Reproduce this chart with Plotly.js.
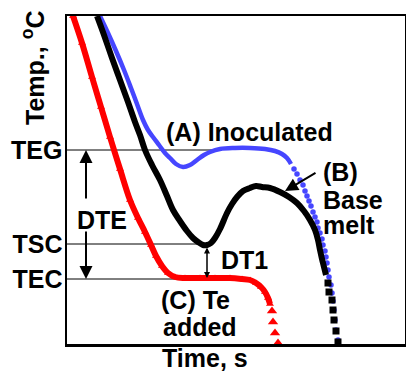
<!DOCTYPE html>
<html>
<head>
<meta charset="utf-8">
<script src="https://cdn.plot.ly/plotly-3.0.1.min.js"></script>
<style>html,body{margin:0;padding:0;background:#fff;}#chart{width:406px;height:372px;}</style>
</head>
<body>
<div id="chart"></div>
<script>
// Time (s, relative) and temperature (relative units)
const tickLabels = ['TEG', 'TSC', 'TEC'];
const tickTemps = [194, 100, 65];

// (A) Inoculated - blue circles
const timeA = [33,41,49,57,64,70,76,81,86,92,98,103,109,116,123,130,137,143,153,168,183,198,208,215,220,224];
const tempA = [328,311,293,274,256,240,224,214,207,199,191,186,180,177,179,184,189,192,195,196,196,195,193,190,186,180];
const timeATail = [227,230,233,236,238,240,242,244,246,248,250,251,253,255,256,258,259,260,261,262,264,265,266,267,268,269,271];
const tempATail = [175,170,164,159,153,148,143,138,132,127,122,116,111,105,99,93,87,81,74,67,59,51,43,34,24,14,4];

// (B) Base melt - black squares
const timeB = [30,37,45,53,61,68,73,78,85,93,100,106,113,120,126,131,136,140,144,148,153,160,165,170,176,183,189,195,203,213,222,230,237,243,248,251,253,255,257,259];
const tempB = [328,309,286,264,242,222,209,194,179,164,148,134,123,113,106,102,99,99,101,106,115,131,140,147,153,156,158,157,156,152,147,141,133,124,114,104,94,85,77,69];
const timeBTail = [261,262,265,266,267,269,271];
const tempBTail = [61,52,44,34,24,13,2];

// (C) Te added - red triangles
const timeC = [6,15,25,34,43,53,63,71,78,84,89,95,101,108,118,133,148,163,175,183,189,194,198,201,203];
const tempC = [328,301,267,237,207,175,144,126,112,99,88,78,71,67,66,66,66,66,65,64,61,57,52,46,40];
const timeCTail = [205,206,208,211];
const tempCTail = [33,22,11,1];

const BLUE = '#4646ff', BLACK = '#000000', RED = '#ff0000';

const traces = [
  {x: timeA, y: tempA, mode: 'lines', line: {color: BLUE, width: 4.5, shape: 'spline'}},
  {x: timeATail, y: tempATail, mode: 'markers', marker: {color: BLUE, size: 5.5, symbol: 'circle'}},
  {x: timeB, y: tempB, mode: 'lines', line: {color: BLACK, width: 6, shape: 'spline'}},
  {x: timeBTail, y: tempBTail, mode: 'markers', marker: {color: BLACK, size: 7, symbol: 'square'}},
  {x: timeC, y: tempC, mode: 'lines+markers', line: {color: RED, width: 6, shape: 'spline'}, marker: {color: RED, size: 7, symbol: 'triangle-up'}},
  {x: timeCTail, y: tempCTail, mode: 'markers', marker: {color: RED, size: 9, symbol: 'triangle-up'}}
];

const FONT = {family: 'Arial, "Liberation Sans", sans-serif', size: 25, color: '#000', weight: 'bold'};

function hline(yv, x1) {
  return {type: 'line', xref: 'x', yref: 'y', x0: 0, x1: x1, y0: yv, y1: yv, line: {color: '#000', width: 1}, layer: 'below'};
}
const shapes = [hline(tickTemps[0], 151), hline(tickTemps[1], 140), hline(tickTemps[2], 140)];

function txt(text, x, y, xanchor) {
  return {text: text, x: x, y: y, xref: 'x', yref: 'y', showarrow: false, font: FONT, xanchor: xanchor || 'center', yanchor: 'middle'};
}
function arrow(x, y, ax, ay) {
  return {text: '', x: x, y: y, ax: ax, ay: ay, xref: 'x', yref: 'y', axref: 'x', ayref: 'y', showarrow: true,
          arrowhead: 2, arrowsize: 1.3, arrowwidth: 2, arrowcolor: '#000', standoff: 0, startstandoff: 0};
}

const annotations = [
  txt('(A) Inoculated', 182, 212),
  txt('(B)', 254, 172, 'left'),
  txt('Base', 254, 144, 'left'),
  txt('melt', 254, 119, 'left'),
  txt('DTE', 35, 124),
  txt('DT1', 152, 84, 'left'),
  txt('(C) Te', 128, 44),
  txt('added', 133, 17),
  arrow(19, 194, 19, 144),
  arrow(19, 65, 19, 114),
  {text: '', x: 140, y: 66, ax: 140, ay: 98, xref: 'x', yref: 'y', axref: 'x', ayref: 'y', showarrow: true,
   arrowhead: 2, startarrowhead: 2, arrowsize: 0.8, startarrowsize: 0.8, arrowwidth: 1.5, arrowcolor: '#000', arrowside: 'end+start', standoff: 0, startstandoff: 0},
  arrow(218, 153, 250, 172),
  {text: 'Time, s', x: 138, xref: 'x', y: -0.043, yref: 'paper', showarrow: false, font: FONT, xanchor: 'center', yanchor: 'middle'},
  {text: 'Temp., <sup>o</sup>C', x: -0.1006, xref: 'paper', y: 0.8415, yref: 'paper', showarrow: false, font: FONT, textangle: -90, xanchor: 'center', yanchor: 'middle'}
];

const layout = {
  width: 406, height: 372,
  margin: {l: 67, r: 1, t: 16, b: 28, pad: 0},
  paper_bgcolor: '#fff', plot_bgcolor: '#fff',
  showlegend: false,
  font: FONT,
  xaxis: {range: [0, 338], showgrid: false, zeroline: false, showticklabels: false, ticks: '',
          showline: true, linecolor: '#000', linewidth: 2.5, mirror: true},
  yaxis: {range: [0, 328], showgrid: false, zeroline: false, tickmode: 'array', tickvals: tickTemps, ticktext: tickLabels,
          ticks: '', tickfont: FONT, ticklabelstandoff: -3,
          showline: true, linecolor: '#000', linewidth: 2.5, mirror: true},
  shapes: shapes,
  annotations: annotations
};

Plotly.newPlot('chart', traces, layout, {displayModeBar: false, staticPlot: true});
</script>
</body>
</html>
